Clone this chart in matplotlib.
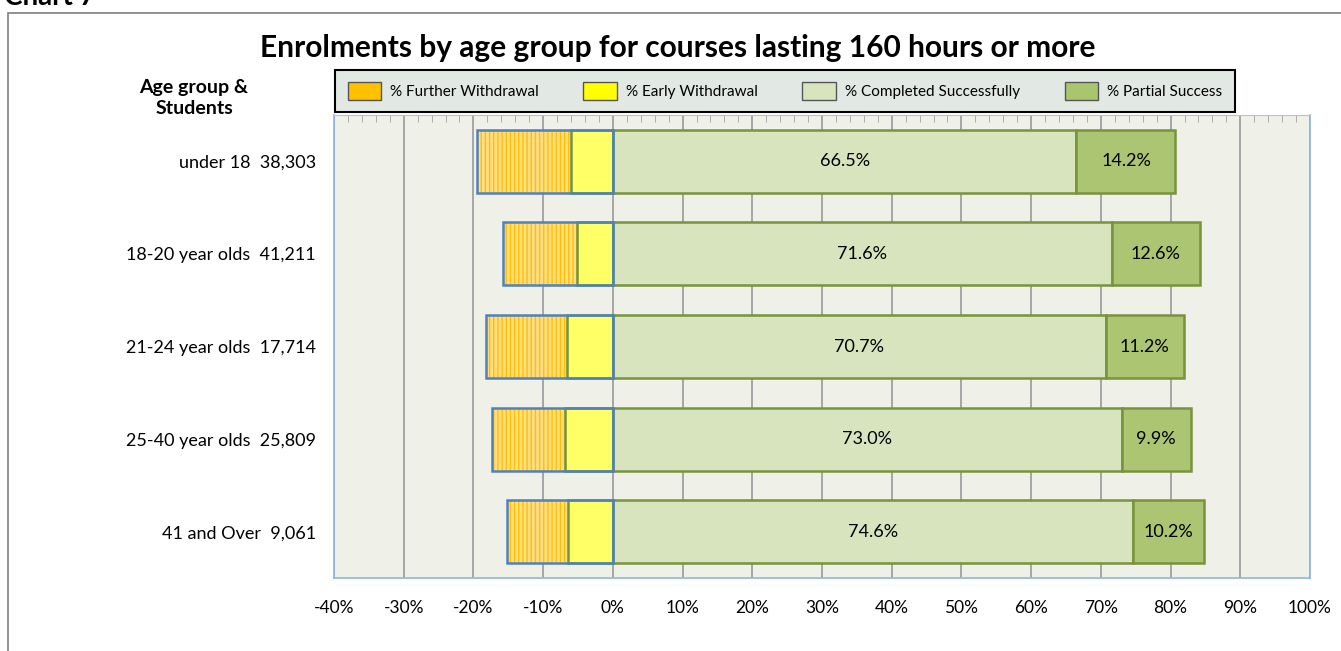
import numpy as np
import matplotlib.pyplot as plt
from matplotlib.patches import Patch, Rectangle

plt.rcParams['font.family'] = ['Lato', 'DejaVu Sans']

ages = ['under 18', '18-20 year olds', '21-24 year olds', '25-40 year olds', '41 and Over']
students = ['38,303', '41,211', '17,714', '25,809', '9,061']
further = [13.5, 10.7, 11.6, 10.5, 8.8]
early = [6.0, 5.1, 6.6, 6.8, 6.4]
completed = [66.5, 71.6, 70.7, 73.0, 74.6]
partial = [14.2, 12.6, 11.2, 9.9, 10.2]
xticks = np.arange(-40, 101, 10)

further = np.array(further)
early = np.array(early)
completed = np.array(completed)
partial = np.array(partial)
y = np.arange(len(ages))

fig = plt.figure(figsize=(13.41, 6.51), dpi=100)
# outer chart frame
fig.patches.append(Rectangle((8/1341, -0.1), 1.0, (651-13)/651 + 0.1, transform=fig.transFigure,
                             fill=False, edgecolor='#7f7f7f', linewidth=1.2))
fig.text(0.003, 1.0 - 5/651, 'Chart 7', fontsize=20, fontweight='bold', va='baseline', ha='left')

ax = fig.add_axes([334/1341, (651-578)/651, (1310-334)/1341, (578-115)/651])
ax.set_facecolor('#eff1e8')
h = 0.68

# further withdrawal (hatched, blue outline)
ax.barh(y, -further, left=-early, height=h, color='#ffde85', edgecolor='#ffc000',
        hatch='||||', linewidth=0, zorder=3)
ax.barh(y, -(further + early), height=h, facecolor='none', edgecolor='#4f81bd', linewidth=1.8, zorder=5)
ax.barh(y, -early, height=h, color='#ffff66', edgecolor='#77933c', linewidth=1.8, zorder=4)
ax.barh(y, completed, height=h, color='#d7e4bd', edgecolor='#77933c', linewidth=1.8, zorder=4)
ax.barh(y, partial, left=completed, height=h, color='#acc572', edgecolor='#77933c', linewidth=1.8, zorder=4)

for i in range(len(ages)):
    ax.text(completed[i] / 2, y[i], f'{completed[i]:.1f}%', ha='center', va='center', fontsize=13, zorder=6)
    ax.text(completed[i] + partial[i] / 2, y[i], f'{partial[i]:.1f}%', ha='center', va='center',
            fontsize=13, zorder=6)

ax.set_xlim(-40, 100)
ax.set_ylim(4.5, -0.5)
ax.set_xticks(xticks)
ax.set_xticklabels([f'{v}%' for v in xticks], fontsize=12.5)
ax.set_xticks(np.arange(-40, 101, 2), minor=True)
ax.tick_params(axis='x', which='both', top=True, bottom=False, labeltop=False, direction='in',
               pad=16, color='#a0a0a0')
ax.tick_params(axis='x', which='major', length=0)
ax.tick_params(axis='x', which='minor', length=5)
ax.grid(axis='x', color='#a0a0a0', linewidth=1.3, zorder=0)
ax.set_axisbelow(True)

ax.set_yticks(y)
ax.set_yticklabels([f'{a}  {s}' for a, s in zip(ages, students)], fontsize=13)
ax.tick_params(axis='y', length=0, pad=13)

for s in ['left', 'bottom', 'right']:
    ax.spines[s].set_color('#8eb4e3')
    ax.spines[s].set_linewidth(1.2)
ax.spines['top'].set_color('#c0c0c0')

fig.text(678/1341, 1 - 48/651, 'Enrolments by age group for courses lasting 160 hours or more',
         fontsize=21.5, fontweight='bold', ha='center', va='center')
fig.text(194/1341, 1 - 98/651, 'Age group &\nStudents', fontsize=14, fontweight='bold',
         ha='center', va='center', linespacing=1.35)

handles = [Patch(facecolor='#ffc000', edgecolor='#555555'),
           Patch(facecolor='#ffff00', edgecolor='#555555'),
           Patch(facecolor='#d7e4bd', edgecolor='#555555'),
           Patch(facecolor='#a9c66e', edgecolor='#555555')]
labels = ['% Further Withdrawal', '% Early Withdrawal', '% Completed Successfully', '% Partial Success']
leg = fig.legend(handles, labels, ncol=4, loc='center', bbox_to_anchor=(785/1341, 1 - 91/651),
                 fontsize=11, frameon=True, fancybox=False, shadow=False, borderpad=0.8,
                 columnspacing=2.9, handlelength=2.2, handleheight=1.4, handletextpad=0.6)
leg.get_frame().set_facecolor('#e2e9e4')
leg.get_frame().set_edgecolor('black')
leg.get_frame().set_linewidth(1.5)
leg.get_frame().set_alpha(1)

fig.savefig('out.png', dpi=100)
